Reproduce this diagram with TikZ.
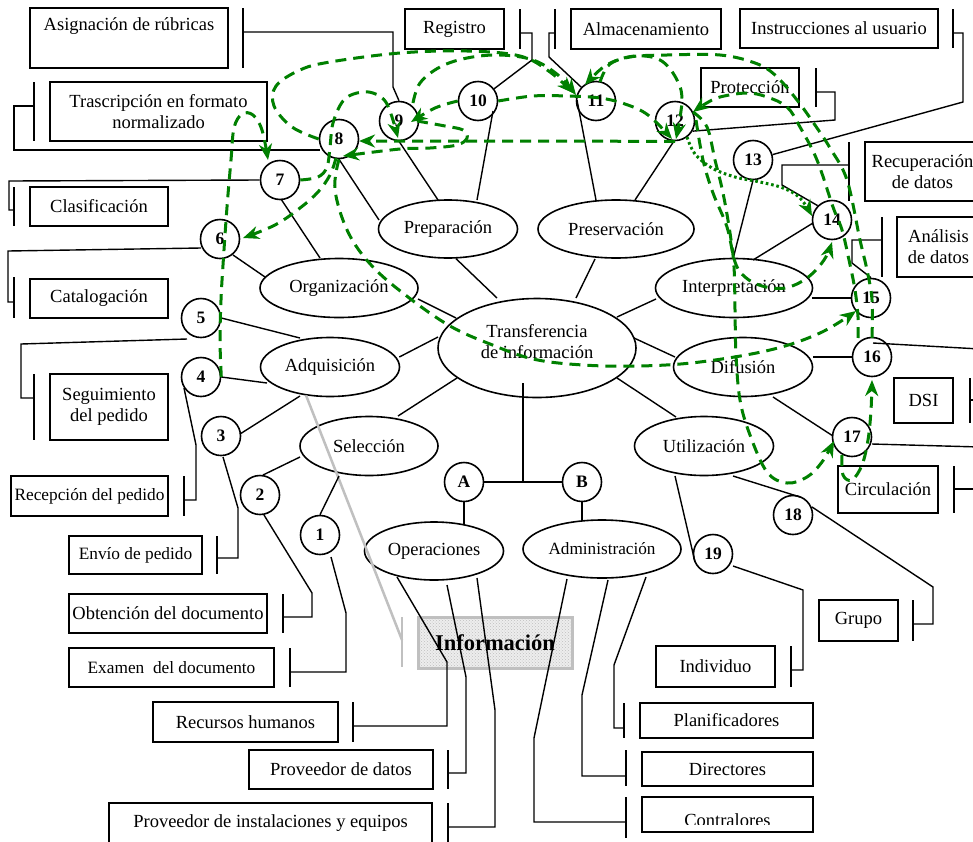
\documentclass[tikz,border=0pt]{standalone}
\usepackage{fontspec}
\setmainfont{Liberation Serif}
\usetikzlibrary{shapes.geometric,arrows.meta,patterns}
\definecolor{flowgreen}{RGB}{0,128,0}
\definecolor{calloutgray}{RGB}{192,192,192}

\begin{document}
\begin{tikzpicture}[x=1pt,y=-1pt,
  every node/.style={font=\fontsize{18.5}{21}\selectfont},
  box/.style={draw,line width=1.6pt,rectangle,inner sep=0pt,align=center},
  smalltext/.style={font=\fontsize{17.3}{21}\selectfont},
  oval/.style={draw,ellipse,inner sep=0pt,line width=1.6pt},
  num/.style={draw,circle,minimum size=39pt,inner sep=0pt,line width=1.6pt,
    font=\fontsize{17.5}{18}\selectfont\bfseries},
  link/.style={line width=1.4pt},
  bracketline/.style={line width=1.6pt},
  flow/.style={draw=flowgreen,line width=3pt,dash pattern=on 11pt off 7pt,
    -{Stealth[length=16pt,width=13pt,inset=5pt]}},
  dotflow/.style={draw=flowgreen,line width=3pt,dash pattern=on 2.6pt off 2.8pt,
    -{Stealth[length=16pt,width=13pt,inset=5pt]}},
]
\useasboundingbox (0,0) rectangle (973,841);
\clip (0,0) rectangle (973,841);
\fill[white] (0,0) rectangle (973,841);

% ---------- central hub and activity ellipses ----------
\node[oval,minimum width=198pt,minimum height=99pt] (T) at (537,348) {};
\node[align=center] (Tl) at (537,342) {Transferencia\\de información};
\node[oval,minimum width=158pt,minimum height=59pt] (Org) at (339,288) {Organización};
\node[oval,minimum width=139pt,minimum height=59pt] (Adq) at (330,367) {Adquisición};
\node[oval,minimum width=138pt,minimum height=59pt] (Sel) at (369,446) {Selección};
\node[oval,minimum width=139pt,minimum height=58pt] (Ope) at (434,551) {Operaciones};
\node[oval,minimum width=158pt,minimum height=58pt,font=\fontsize{17.2}{18}\selectfont] (Adm) at (602,549) {Administración};
\node[oval,minimum width=139pt,minimum height=58pt] (Pre) at (448,229) {Preparación};
\node[oval,minimum width=156pt,minimum height=58pt] (Pse) at (616,229) {Preservación};
\node[oval,minimum width=157pt,minimum height=59pt] (Int) at (734,288) {Interpretación};
\node[oval,minimum width=139pt,minimum height=59pt] (Dif) at (743,367) {Difusión};
\node[oval,minimum width=139pt,minimum height=59pt] (Uti) at (704,446) {Utilización};

% ---------- numbered steps ----------
\node[num] (c1) at (320,535) {1};
\node[num] (c2) at (260,495) {2};
\node[num] (c3) at (221,436) {3};
\node[num] (c4) at (201,377) {4};
\node[num] (c5) at (201,318) {5};
\node[num] (c6) at (220,239) {6};
\node[num] (c7) at (280,180) {7};
\node[num] (c8) at (339,139) {8};
\node[num] (c9) at (399,121) {9};
\node[num] (c10) at (478,101) {10};
\node[num] (c11) at (596,101) {11};
\node[num] (c12) at (675,121) {12};
\node[num] (c13) at (753,160) {13};
\node[num] (c14) at (832,220) {14};
\node[num] (c15) at (871,298) {15};
\node[num] (c16) at (872,357) {16};
\node[num] (c17) at (852,437) {17};
\node[num] (c18) at (793,515) {18};
\node[num] (c19) at (713,554) {19};
\node[num] (A) at (464,482) {A};
\node[num] (B) at (582,482) {B};

% ---------- labelled boxes ----------
\node[box,minimum width=198pt,minimum height=60pt] (b1) at (129,38) {Asignación de rúbricas\\\strut};
\node[box,minimum width=99pt,minimum height=40pt] (b2) at (454.5,29) {Registro};
\node[box,minimum width=150pt,minimum height=40pt] (b3) at (646,29) {Almacenamiento};
\node[box,minimum width=198pt,minimum height=39pt] (b4) at (839,28.5) {Instrucciones al usuario};
\node[box,minimum width=98pt,minimum height=39pt] (b5) at (750,87.5) {Protección};
\node[box,minimum width=217pt,minimum height=59pt] (b6) at (158.5,111.5) {Trascripción en formato\\normalizado};
\node[box,minimum width=138pt,minimum height=39pt] (b7) at (99,206.5) {Clasificación};
\node[box,minimum width=138pt,minimum height=39pt] (b8) at (99,298.5) {Catalogación};
\node[box,minimum width=118pt,minimum height=66pt] (b9) at (109,407) {Seguimiento\\del pedido};
\node[box,smalltext,minimum width=157pt,minimum height=40pt] (b10) at (89.5,496) {Recepción del pedido};
\node[box,smalltext,minimum width=133pt,minimum height=38pt] (b11) at (135.5,555) {Envío de pedido};
\node[box,minimum width=198pt,minimum height=39pt] (b12) at (168,613.5) {Obtención del documento};
\node[box,smalltext,minimum width=205pt,minimum height=39pt] (b13) at (171.5,667.5) {Examen\ \ del documento};
\node[box,minimum width=185pt,minimum height=40pt] (b14) at (245.5,722) {Recursos humanos};
\node[box,minimum width=184pt,minimum height=39pt] (b15) at (341,769.5) {Proveedor de datos};
\node[box,minimum width=323pt,minimum height=40pt] (b16) at (270.5,823) {Proveedor de instalaciones y equipos};
\node[box,minimum width=173pt,minimum height=35pt] (b17) at (726.5,720.5) {Planificadores};
\node[box,minimum width=171pt,minimum height=34pt] (b18) at (727.5,769) {Directores};
\node[box,minimum width=171pt,minimum height=35pt] (b19) at (727.5,814.5) {};
\begin{scope}
  \clip (642,797) rectangle (813,824);
  \node[anchor=base] (b19t) at (727.5,826) {Contralores};
\end{scope}
\node[box,minimum width=119pt,minimum height=41pt] (b20) at (715.5,666.5) {Individuo};
\node[box,minimum width=79pt,minimum height=41pt] (b21) at (858.5,620.5) {Grupo};
\node[box,minimum width=59pt,minimum height=45pt] (b22) at (923.5,400.5) {DSI};
\node[box,minimum width=100pt,minimum height=47pt] (b23) at (888,489.5) {Circulación};
\node[box,minimum width=115pt,minimum height=59pt] (b24) at (922.5,171.5) {Recuperación\\de datos};
\node[box,minimum width=83pt,minimum height=60pt] (b25) at (938.5,247) {Análisis\\de datos};

% ---------- the "Información" callout ----------
\node[draw=calloutgray,line width=3pt,fill=gray!14,
      postaction={pattern=crosshatch dots,pattern color=gray!50},
      minimum width=154pt,minimum height=51pt,inner sep=0pt,
      font=\fontsize{22.5}{24}\selectfont\bfseries] (Inf) at (495,642.5) {Información};
\draw[calloutgray,line width=2.5pt] (Adq.-130) -- (402,640);
\draw[calloutgray,line width=2.5pt] (402,617) -- (402,667);

% ---------- hub spokes ----------
\draw[link] (497,298) -- (Pre.-75);
\draw[link] (576,298) -- (595,259);
\draw[link] (418,299) -- (456,318);
\draw[link] (Adq.east) ++(-1,-10) -- (438,337);
\draw[link] (398,416) -- (457,378);
\draw[link] (617,317) -- (656,299);
\draw[link] (634,338) -- (675,357);
\draw[link] (617,378) -- (676,417);
\draw[link] (523,383) -- (523,482);
\draw[link] (A) -- (B);
\draw[link] (A.south) -- (464,525);
\draw[link] (B.south) -- (582,521);

% ---------- steps to activities ----------
\draw[link] (c1.north) -- (339,476);
\draw[link] (263,475) -- (300,457);
\draw[link] (240,434) -- (300,396);
\draw[link] (c4.east) -- (267,383);
\draw[link] (c5.east) -- (300,338);
\draw[link] (233,255) -- (265,277);
\draw[link] (281,199) -- (320,258);
\draw[link] (c8.south) -- (379,220);
\draw[link] (c9.south) -- (438,200);
\draw[link] (493,111) -- (477,200);
\draw[link] (577,100) -- (596,200);
\draw[link] (674,141) -- (635,200);
\draw[link] (c13.south) -- (733,259);
\draw[link] (813,223) -- (753,260);
\draw[link] (c15.west) -- (812,298);
\draw[link] (c16.west) -- (813,357);
\draw[link] (833,436) -- (773,397);
\draw[link] (733,476) -- (800,497);
\draw[link] (675,476) -- (695,562);

% ---------- steps to their boxes ----------
\draw[bracketline] (243,8) -- (243,68);
\draw[link] (243,32) -- (393,32) -- (393,87) -- (c9.north);
\draw[bracketline] (520,9) -- (520,49);
\draw[link] (520,33) -- (532,33) -- (532,60) -- (c10);
\draw[bracketline] (555,9) -- (555,49);
\draw[link] (555,33) -- (549,33) -- (549,57) -- (c11);
\draw[bracketline] (953,9) -- (953,48);
\draw[link] (953,33) -- (963,33) -- (963,102) -- (c13);
\draw[bracketline] (816,68) -- (816,107);
\draw[link] (816,92) -- (835,92) -- (835,120) -- (c12.-30);
\draw[bracketline] (34,82) -- (34,141);
\draw[link] (34,106) -- (14,106) -- (14,150) -- (320,150);
\draw[bracketline] (14,187) -- (14,226);
\draw[link] (14,210) -- (9,210) -- (9,181) -- (c7.west);
\draw[bracketline] (14,277) -- (14,318);
\draw[link] (14,302) -- (8,302) -- (8,251) -- (201,248);
\draw[bracketline] (34,374) -- (34,440);
\draw[link] (34,398) -- (21,398) -- (21,344) -- (187,339);
\draw[bracketline] (184,476) -- (184,516);
\draw[link] (184,500) -- (196,500) -- (196,445) -- (184,388);
\draw[bracketline] (217,536) -- (217,574);
\draw[link] (217,558) -- (238,558) -- (238,508) -- (223,457);
\draw[bracketline] (283,594) -- (283,633);
\draw[link] (283,617) -- (312,617) -- (312,593) -- (264,515);
\draw[bracketline] (290,648) -- (290,687);
\draw[link] (290,672) -- (346,672) -- (346,613) -- (331,557);
\draw[bracketline] (353,702) -- (353,742);
\draw[link] (353,726) -- (447,726) -- (447,662) -- (397,577);
\draw[bracketline] (448,750) -- (448,789);
\draw[link] (448,773) -- (466,773) -- (466,677) -- (447,585);
\draw[bracketline] (448,803) -- (448,845);
\draw[link] (448,827) -- (495,827) -- (495,710) -- (477,578);
\draw[bracketline] (624,703) -- (624,738);
\draw[link] (624,728) -- (614,728) -- (614,665) -- (646,577);
\draw[bracketline] (626,750) -- (626,786);
\draw[link] (626,776) -- (582,776) -- (582,695) -- (608,580);
\draw[bracketline] (626,797) -- (626,838);
\draw[link] (626,822) -- (534,822) -- (534,738) -- (567,579);
\draw[bracketline] (791,646) -- (791,687);
\draw[link] (791,670) -- (803,670) -- (803,590) -- (733,566);
\draw[bracketline] (913,600) -- (913,641);
\draw[link] (913,624) -- (933,624) -- (933,587) -- (812,507);
\draw[bracketline] (849,142) -- (849,201);
\draw[link] (849,165) -- (782,165) -- (782,185) -- (c14.north west);
\draw[bracketline] (882,217) -- (882,277);
\draw[link] (882,240) -- (852,240) -- (852,263) -- (c15.north);
\draw[link] (873,343) -- (980,349);
\draw[bracketline] (970,378) -- (970,423);
\draw[link] (970,400) -- (980,400);
\draw[link] (872,444) -- (980,447);
\draw[bracketline] (954,466) -- (954,513);
\draw[link] (954,489) -- (980,489);

% ---------- information flows ----------
\draw[flow] plot[smooth,tension=0.6] coordinates {(c8.west) (292,127) (274,106) (276,86) (300,70) (330,62) (400,53) (467,51) (520,56) (550,72) (573,93)};
\draw[flow] plot[smooth,tension=0.6] coordinates {(413,103) (420,83) (440,67) (467,58) (500,55) (533,60) (558,75) (576,95)};
\draw[flow] plot[smooth,tension=0.6] coordinates {(c7.east) (318,177) (327,167) (330,147) (333,123) (343,101) (357,93) (373,93) (387,104) (398,138)};
\draw[flow] plot[smooth,tension=0.6] coordinates {(c4.east) (220,340) (221,300) (223,265) (227,207) (231,160) (234,128) (242,114) (253,115) (262,130) (268,160)};
\draw[flow] plot[smooth,tension=0.6] coordinates {(336,158) (330,175) (318,192) (300,208) (275,225) (243,238)};
\draw[flow] plot[smooth,tension=0.6] coordinates {(c8.south) (335,190) (348,232) (372,266) (408,297) (450,326) (490,344) (533,359) (583,365) (640,366) (700,362) (770,350) (820,333) (856,311)};
\draw[flow] plot[smooth,tension=0.6] coordinates {(696,120) (703,160) (713,193) (727,227) (735,262) (745,277) (762,286) (785,288) (807,278) (824,260) (832,242)};
\draw[flow] plot[smooth,tension=0.6] coordinates {(693,112) (707,127) (715,160) (723,193) (730,233) (734,267) (735,310) (736,355) (740,400) (750,435) (767,472) (787,483) (807,477) (822,462) (834,441)};
\draw[dotflow] plot[smooth,tension=0.6] coordinates {(687,137) (695,154) (712,168) (735,177) (760,182) (783,188) (800,198) (812,216)};
\draw[flow] plot[smooth,tension=0.6] coordinates {(872,338) (872,300) (867,270) (860,240) (847,180) (830,148) (817,128) (797,100) (775,75) (755,63) (720,55) (667,55) (630,57) (605,66) (585,85)};
\draw[flow] plot[smooth,tension=0.6] coordinates {(858,338) (858,317) (855,290) (849,260) (842,230) (833,207) (817,160) (800,127) (787,107) (767,97) (747,93) (720,97) (705,104) (693,112)};
\draw[flow] plot[smooth,tension=0.6] coordinates {(600,82) (610,64) (635,56) (660,60) (676,78) (682,100) (676,139)};
\draw[flow] plot[smooth,tension=0.6] coordinates {(c10.east) (533,96) (567,96) (600,98) (625,104) (648,115) (672,139)};
\draw[flow] plot[smooth,tension=0.6] coordinates {(c10.west) (435,108) (411,122)};
\draw[flow] (c12.south) -- (359,141);
\draw[flow] plot[smooth,tension=0.6] coordinates {(417,121) (445,126) (463,130) (467,138) (457,145) (430,148) (400,149) (343,156)};
\draw[flow] plot[smooth,tension=0.6] coordinates {(842,455) (843,475) (852,480) (862,465) (868,440) (871,410) (872,380)};
\end{tikzpicture}
\end{document}
